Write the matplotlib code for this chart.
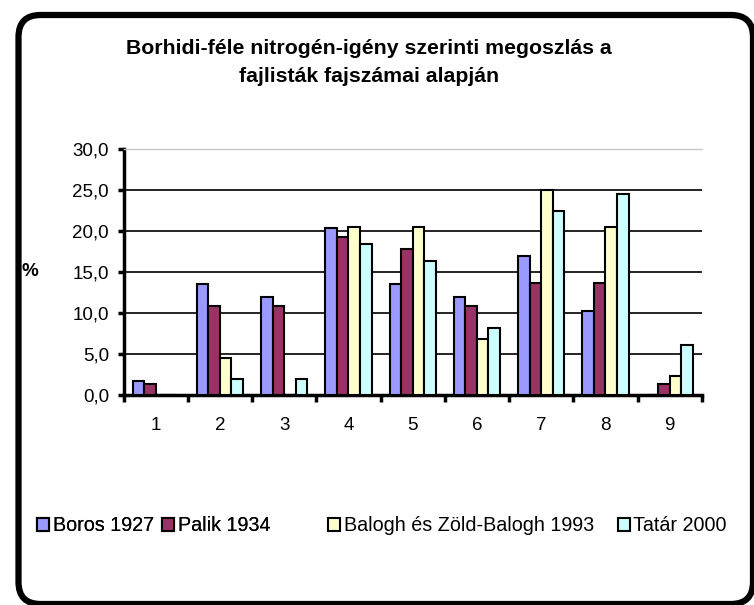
import matplotlib
matplotlib.use('Agg')
import matplotlib.pyplot as plt
import numpy as np
from matplotlib.patches import FancyBboxPatch
from matplotlib.transforms import IdentityTransform

plt.rcParams['font.family'] = ['Liberation Sans', 'DejaVu Sans']

categories = ['1', '2', '3', '4', '5', '6', '7', '8', '9']
boros_1927 = [1.7, 13.5, 11.9, 20.3, 13.5, 11.9, 16.9, 10.2, 0.0]
palik_1934 = [1.4, 10.9, 10.9, 19.2, 17.8, 10.9, 13.7, 13.7, 1.4]
balogh_1993 = [0.0, 4.5, 0.0, 20.5, 20.5, 6.8, 25.0, 20.5, 2.3]
tatar_2000 = [0.0, 2.0, 2.0, 18.4, 16.3, 8.2, 22.4, 24.5, 6.1]

series = [
    ('Boros 1927', boros_1927, '#9999FF'),
    ('Palik 1934', palik_1934, '#993366'),
    ('Balogh és Zöld-Balogh 1993', balogh_1993, '#FFFFCC'),
    ('Tatár 2000', tatar_2000, '#CCFFFF'),
]

fig = plt.figure(figsize=(7.54, 6.05), dpi=100)
ax = fig.add_axes([0.1638, 0.347, 0.767, 0.407])

x = np.arange(len(categories))
w = 0.18
handles = []
for i, (name, vals, col) in enumerate(series):
    b = ax.bar(x + (i - 1.5) * w, vals, w, color=col, edgecolor='black', linewidth=1.5, label=name, zorder=3)
    handles.append(b)

ax.set_xlim(-0.5, len(categories) - 0.5)
ax.set_ylim(0, 30)
ax.set_yticks(np.arange(0, 31, 5))
ax.set_yticklabels(['{:.1f}'.format(v).replace('.', ',') for v in np.arange(0, 31, 5)], fontsize=13.5)
ax.yaxis.grid(True, color='black', linewidth=1.2, zorder=0)
ax.set_axisbelow(True)

# category labels centred, tick marks between categories
ax.set_xticks(x)
ax.set_xticklabels(categories, fontsize=13.5)
ax.tick_params(axis='x', length=0, pad=16)
ax.set_xticks(np.arange(-0.5, len(categories)), minor=True)
ax.tick_params(axis='x', which='minor', length=5, width=2.5, direction='out')
ax.tick_params(axis='y', length=4.5, width=2.5, direction='out', pad=6)

ax.spines['left'].set_linewidth(2.5)
ax.spines['bottom'].set_linewidth(2.5)
ax.spines['top'].set_color('#c8c8c8')
ax.spines['top'].set_linewidth(1)
ax.spines['right'].set_visible(False)

fig.text(0.0398, 0.552, '%', fontsize=13.5, fontweight='bold', ha='center', va='center')

fig.text(0.489, 0.897, 'Borhidi-féle nitrogén-igény szerinti megoszlás a\nfajlisták fajszámai alapján',
         ha='center', va='center', fontsize=15.3, fontweight='bold', linespacing=1.6)

leg_kw = dict(loc='center left', ncol=2, frameon=False, fontsize=14.2, handlelength=0.6, handleheight=0.6,
              handletextpad=0.2, borderpad=0, borderaxespad=0)
leg1 = fig.legend(handles[:2], [s[0] for s in series[:2]], bbox_to_anchor=(0.049, 0.131),
                  columnspacing=0.4, **leg_kw)
leg2 = fig.legend(handles[2:], [s[0] for s in series[2:]], bbox_to_anchor=(0.435, 0.131),
                  columnspacing=1.2, **leg_kw)
fig.add_artist(leg1)

# rounded chart-area frame, in pixels
frame = FancyBboxPatch((18.5, 1), 734.5, 589, boxstyle='round,pad=0,rounding_size=22',
                       transform=IdentityTransform(), fill=False, edgecolor='black', linewidth=4.5, clip_on=False)
fig.add_artist(frame)

fig.savefig('out.png', dpi=100)
